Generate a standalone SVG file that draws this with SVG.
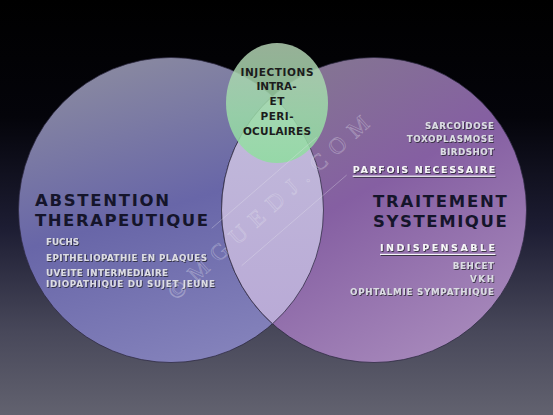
<svg xmlns="http://www.w3.org/2000/svg" width="553" height="415" viewBox="0 0 553 415">
<defs>
<linearGradient id="bg" x1="0" y1="0" x2="0" y2="1">
<stop offset="0" stop-color="#000000"/>
<stop offset="0.28" stop-color="#04040a"/>
<stop offset="0.55" stop-color="#1d1d33"/>
<stop offset="0.8" stop-color="#48485a"/>
<stop offset="1" stop-color="#62626f"/>
</linearGradient>
<linearGradient id="gl" x1="0.3" y1="0" x2="0.6" y2="1">
<stop offset="0" stop-color="#8a8aa0"/>
<stop offset="0.5" stop-color="#6866a8"/>
<stop offset="1" stop-color="#8482bb"/>
</linearGradient>
<linearGradient id="gr" x1="0.2" y1="0" x2="0.75" y2="1">
<stop offset="0" stop-color="#847890"/>
<stop offset="0.45" stop-color="#855fa2"/>
<stop offset="1" stop-color="#a88abc"/>
</linearGradient>
<linearGradient id="glens" x1="0" y1="0" x2="0" y2="1">
<stop offset="0" stop-color="#c2bbdb"/>
<stop offset="1" stop-color="#b9aad6"/>
</linearGradient>
<linearGradient id="ggreen" x1="0" y1="0" x2="0" y2="1">
<stop offset="0" stop-color="#b4d2b4"/>
<stop offset="0.6" stop-color="#9cdea8"/>
<stop offset="1" stop-color="#8ede9e"/>
</linearGradient>
<filter id="sh" x="-10%" y="-30%" width="120%" height="160%">
<feDropShadow dx="0.8" dy="0.9" stdDeviation="0.35" flood-color="#1a1a28" flood-opacity="0.85"/>
</filter>
</defs>
<style>
.circ{stroke:#2c2840;stroke-width:1;stroke-opacity:0.75}
.title{font-family:"DejaVu Sans","Liberation Sans",sans-serif;font-weight:bold;font-size:16.5px;fill:#15152b}
.item{font-family:"DejaVu Sans","Liberation Sans",sans-serif;font-weight:bold;font-size:8.7px;fill:#dcdce4;filter:url(#sh)}
.key{font-family:"DejaVu Sans","Liberation Sans",sans-serif;font-weight:bold;font-size:9.5px;fill:#f6f6f8;filter:url(#sh)}
.ul{fill:#f6f6f8;filter:url(#sh)}
.inj{font-family:"DejaVu Sans","Liberation Sans",sans-serif;font-weight:bold;font-size:10.5px;fill:#1c1c1c}
.wm{font-family:"Liberation Serif","DejaVu Serif",serif;font-size:23px;fill:none;stroke:#e8e8f0;stroke-width:0.6;stroke-opacity:0.4}
.wl{stroke:#e8e8f0;stroke-width:0.8;stroke-opacity:0.4}
</style>
<rect width="553" height="415" fill="url(#bg)"/>
<g id="node-abstention">
<circle class="circ" cx="171" cy="210" r="152.5" fill="url(#gl)"/>
<text class="title" x="35" y="206" textLength="134" lengthAdjust="spacing">ABSTENTION</text>
<text class="title" x="35" y="226" textLength="173" lengthAdjust="spacing">THERAPEUTIQUE</text>
<text class="item" x="46" y="245.3" textLength="33" lengthAdjust="spacing">FUCHS</text>
<text class="item" x="46" y="261" textLength="161" lengthAdjust="spacing">EPITHELIOPATHIE EN PLAQUES</text>
<text class="item" x="46" y="275.5" textLength="122" lengthAdjust="spacing">UVEITE INTERMEDIAIRE</text>
<text class="item" x="46" y="286.7" textLength="169" lengthAdjust="spacing">IDIOPATHIQUE DU SUJET JEUNE</text>
</g>
<g id="node-traitement">
<circle class="circ" cx="374" cy="210" r="152.5" fill="url(#gr)"/>
<text class="item" x="425" y="129.3" textLength="69" lengthAdjust="spacing">SARCOÏDOSE</text>
<text class="item" x="406.7" y="142.3" textLength="87" lengthAdjust="spacing">TOXOPLASMOSE</text>
<text class="item" x="440" y="155.3" textLength="54" lengthAdjust="spacing">BIRDSHOT</text>
<text class="key" x="352.7" y="173.3" textLength="142.6" lengthAdjust="spacing">PARFOIS NECESSAIRE</text>
<rect class="ul" x="352.7" y="175.6" width="142.6" height="1.2"/>
<text class="title" x="373" y="206.7" textLength="133.7" lengthAdjust="spacing">TRAITEMENT</text>
<text class="title" x="373" y="226.7" textLength="133.7" lengthAdjust="spacing">SYSTEMIQUE</text>
<text class="key" x="380" y="251.3" textLength="115" lengthAdjust="spacing">INDISPENSABLE</text>
<rect class="ul" x="380" y="253.8" width="115.3" height="1.2"/>
<text class="item" x="452.7" y="268.7" textLength="41.3" lengthAdjust="spacing">BEHCET</text>
<text class="item" x="470" y="281.7" textLength="24" lengthAdjust="spacing">VKH</text>
<text class="item" x="350" y="295" textLength="144" lengthAdjust="spacing">OPHTALMIE SYMPATHIQUE</text>
</g>
<g id="node-overlap">
<path class="circ" d="M272.5 96.2 A152.5 152.5 0 0 1 272.5 323.8 A152.5 152.5 0 0 1 272.5 96.2 Z" fill="url(#glens)"/>
</g>
<g id="node-injections">
<ellipse cx="277" cy="103" rx="51" ry="60" fill="url(#ggreen)" fill-opacity="0.84"/>
<text class="inj" x="240.5" y="75.7" textLength="73" lengthAdjust="spacing">INJECTIONS</text>
<text class="inj" x="256.5" y="90" textLength="40" lengthAdjust="spacing">INTRA-</text>
<text class="inj" x="269.5" y="104.5" textLength="15" lengthAdjust="spacing">ET</text>
<text class="inj" x="260.5" y="120" textLength="33" lengthAdjust="spacing">PERI-</text>
<text class="inj" x="243" y="134.8" textLength="68" lengthAdjust="spacing">OCULAIRES</text>
</g>
<g id="connectors"></g>
<g id="watermark">
<line class="wl" x1="211.7" y1="228.3" x2="316.7" y2="137.3"/>
<line class="wl" x1="241.7" y1="265.7" x2="346.7" y2="175"/>
<text class="wm" transform="translate(176 301) rotate(-42)" x="0" y="0" textLength="262" lengthAdjust="spacing">©MGUEDJ.COM</text>
</g>
</svg>
